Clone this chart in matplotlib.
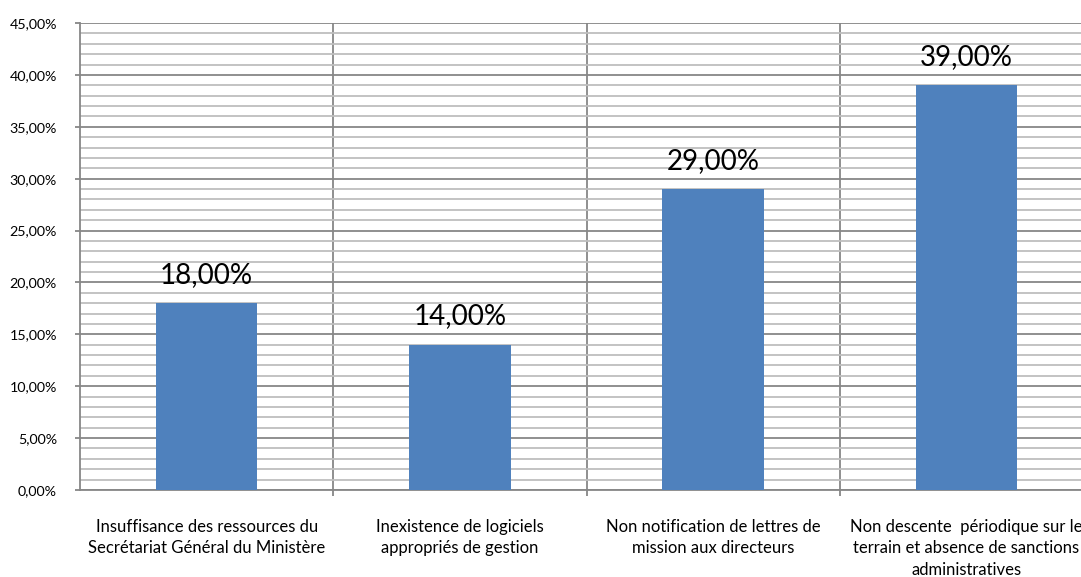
import numpy as np
import matplotlib.pyplot as plt
from matplotlib.ticker import MultipleLocator, FuncFormatter

categories = [
    "Insuffisance des ressources du\nSecrétariat Général du Ministère",
    "Inexistence de logiciels\nappropriés de gestion",
    "Non notification de lettres de\nmission aux directeurs",
    "Non descente  périodique sur le\nterrain et absence de sanctions\nadministratives",
]
values = [18.0, 14.0, 29.0, 39.0]

bar_color = "#4F81BD"
major_grid = "#878787"
minor_grid = "#BEBEBE"

plt.rcParams['font.family'] = ['Lato', 'DejaVu Sans']

fig = plt.figure(figsize=(10.81, 5.77), dpi=100)
ax = fig.add_axes([80 / 1081, 1 - 490 / 577, 1013 / 1081, 467 / 577])

x = np.arange(len(values))
ax.bar(x, values, width=0.4, color=bar_color, zorder=3)

for xi, v in zip(x, values):
    ax.annotate(f"{v:.2f}%".replace(".", ","), (xi, v), xytext=(0, 11),
                textcoords="offset points", ha="center", va="bottom",
                fontsize=20, color="black", zorder=4)

ax.set_xlim(-0.5, len(values) - 0.5)
ax.set_ylim(0, 45)

# y axis: major every 5 %, minor every 1 %
ax.yaxis.set_major_locator(MultipleLocator(5))
ax.yaxis.set_minor_locator(MultipleLocator(1))
ax.yaxis.set_major_formatter(FuncFormatter(lambda v, p: f"{v:.2f}%".replace(".", ",")))
ax.grid(axis="y", which="major", color=major_grid, linewidth=1.3, zorder=1)
ax.grid(axis="y", which="minor", color=minor_grid, linewidth=1.3, zorder=1)
ax.tick_params(axis="y", which="major", length=3.6, color=major_grid, width=1.3,
               labelsize=10.3, pad=13)
ax.tick_params(axis="y", which="minor", length=0)

# x axis: labels at centers, ticks/grid at category boundaries
ax.set_xticks(x)
ax.set_xticklabels(categories, fontsize=12, linespacing=1.4)
ax.set_xticks(np.arange(0.5, len(values) - 0.5 + 1e-9, 1.0), minor=True)
ax.tick_params(axis="x", which="major", length=0, pad=21)
ax.tick_params(axis="x", which="minor", length=4, color=major_grid, width=1.3)
ax.grid(axis="x", which="minor", color=major_grid, linewidth=1.3, zorder=1)

for side in ["top", "right"]:
    ax.spines[side].set_visible(False)
for side in ["left", "bottom"]:
    ax.spines[side].set_color(major_grid)
    ax.spines[side].set_linewidth(1.3)

fig.savefig("out.png", dpi=100)
